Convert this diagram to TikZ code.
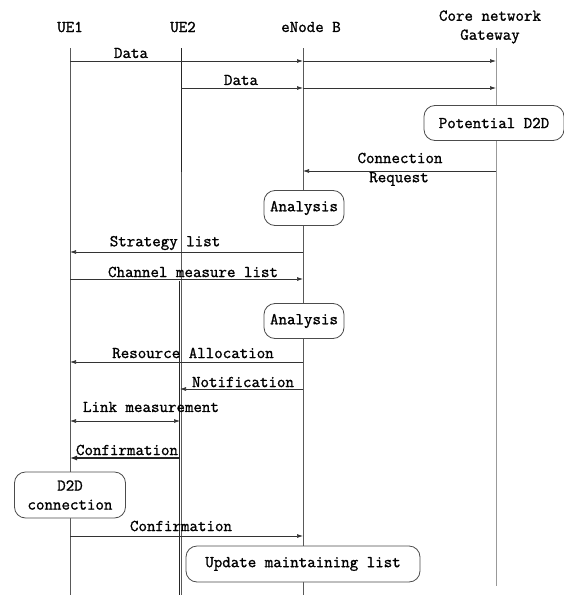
\documentclass[tikz,border=0pt]{standalone}
\usepackage{fontspec}
\newfontfamily\diagfont{Latin Modern Mono}[FakeBold=1.2]
\usetikzlibrary{arrows.meta}
\begin{document}
\begin{tikzpicture}[x=1pt,y=-1pt,
  txt/.style={font=\fontsize{16.5}{19}\selectfont\diagfont, inner sep=0pt, text=black},
  box/.style={txt, draw=black!70, fill=white, rounded corners=11pt, line width=0.8pt, align=center},
  msg/.style={draw=black!80, line width=0.7pt, -{Latex[length=6pt,width=4pt]}},
  life/.style={draw=black!65, line width=0.8pt},
]
\useasboundingbox (0,0) rectangle (564,597);
% headers
\node[txt] (ue1) at (70,27) {UE1};
\node[txt] (ue2) at (183,27) {UE2};
\node[txt] (enb) at (311,27) {eNode B};
\node[txt, align=center] (core) at (490,27) {Core network\\Gateway};
% lifeline coordinates
\coordinate (l1t) at (70,48);  \coordinate (l1b) at (70,595);
\coordinate (l2t) at (181,48); \coordinate (l2b) at (181,595);
\coordinate (l2m) at (181,172);
\coordinate (l2s) at (179,281); \coordinate (l2e) at (179,595);
\coordinate (l3t) at (303,48); \coordinate (l3b) at (303,595);
\coordinate (l4t) at (496,48); \coordinate (l4b) at (496,586);
\draw[life, line width=0.6pt] (l2t) -- (l2b);
\draw[life] (l1t) -- (l1b);
\draw[life, draw=black!85, line width=1pt] (l2t) -- (l2m);
\draw[life, draw=black!85, line width=1pt] (l2s) -- (l2e);
\draw[life] (l3t) -- (l3b);
\draw[life, draw=black!40] (l4t) -- (l4b);
% Data 1
\coordinate (d1a) at (70,61); \coordinate (d1b) at (303,61); \coordinate (d1c) at (496,61);
\draw[msg] (d1a) -- (d1b);
\draw[msg] (d1b) -- (d1c);
\node[txt] (d1l) at (131,53) {Data};
% Data 2
\coordinate (d2a) at (181,88); \coordinate (d2b) at (303,88); \coordinate (d2c) at (496,88);
\draw[msg] (d2a) -- (d2b);
\draw[msg] (d2b) -- (d2c);
\node[txt] (d2l) at (241,80) {Data};
% Potential D2D
\node[box, minimum width=140pt, minimum height=35pt] (pot) at (494,123) {Potential D2D};
% Connection Request
\coordinate (cra) at (496,171); \coordinate (crb) at (303,171);
\draw[msg] (cra) -- (crb);
\node[txt] (crl1) at (400,158) {Connection};
\node[txt] (crl2) at (399,179) {Request};
% Analysis 1
\node[box, minimum width=80pt, minimum height=35pt] (an1) at (304,208) {Analysis};
% Strategy list
\coordinate (sla) at (303,252); \coordinate (slb) at (70,252);
\draw[msg] (sla) -- (slb);
\node[txt] (sll) at (165,243) {Strategy list};
% Channel measure list
\coordinate (cma) at (70,279); \coordinate (cmb) at (303,279);
\draw[msg] (cma) -- (cmb);
\node[txt] (cml) at (193,272) {Channel measure list};
% Analysis 2
\node[box, minimum width=80pt, minimum height=35pt] (an2) at (304,321) {Analysis};
% Resource Allocation
\coordinate (raa) at (303,362); \coordinate (rab) at (70,362);
\draw[msg] (raa) -- (rab);
\node[txt] (ral) at (193,353) {Resource Allocation};
% Notification
\coordinate (noa) at (303,389); \coordinate (nob) at (180,389);
\draw[msg] (noa) -- (nob);
\node[txt] (nol) at (243,382) {Notification};
% Link measurement
\coordinate (lma) at (70,421); \coordinate (lmb) at (180,421);
\draw[msg, {Latex[length=6pt,width=4pt]}-{Latex[length=6pt,width=4pt]}] (lma) -- (lmb);
\node[txt] (lml) at (151,407) {Link measurement};
% Confirmation 1
\coordinate (c1a) at (180,458); \coordinate (c1b) at (70,458);
\draw[msg, line width=1.2pt, draw=black!85, -{Latex[length=7pt,width=5pt]}] (c1a) -- (c1b);
\node[txt] (c1l) at (127,450) {Confirmation};
% D2D connection
\node[box, minimum width=111pt, minimum height=46pt] (d2d) at (70,495) {D2D\\connection};
% Confirmation 2
\coordinate (c2a) at (70,536); \coordinate (c2b) at (303,536);
\draw[msg] (c2a) -- (c2b);
\node[txt] (c2l) at (181,526) {Confirmation};
% Update maintaining list
\node[box, minimum width=234pt, minimum height=36pt] (upd) at (303,564) {Update maintaining list};
\end{tikzpicture}
\end{document}
